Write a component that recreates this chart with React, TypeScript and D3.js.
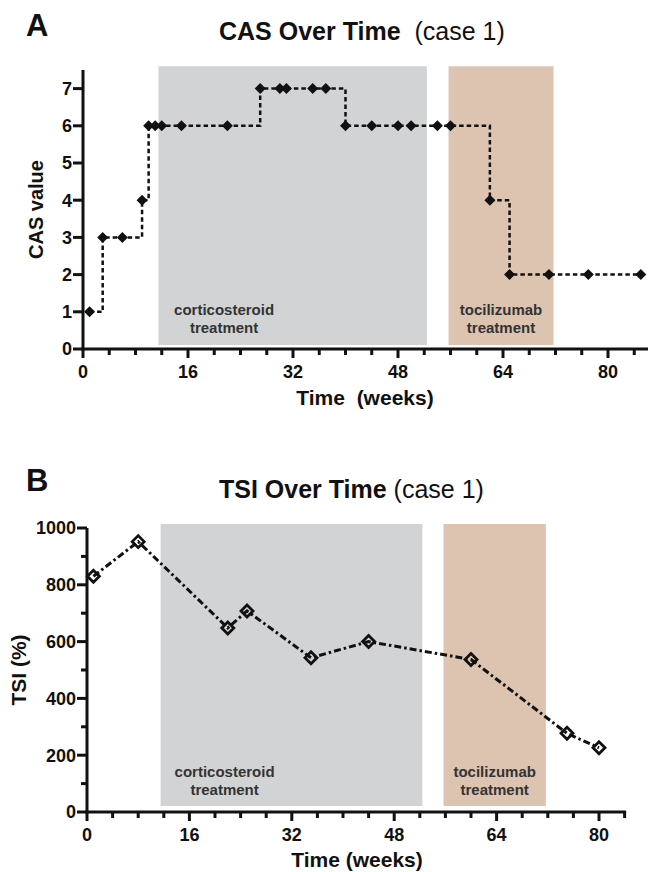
import React from "react";
import * as d3 from "d3";

// ---- Data ----
const casWeeks = [1, 3, 6, 9, 10, 11, 12, 15, 22, 27, 30, 31, 35, 37, 40, 44, 48, 50, 54, 56, 62, 65, 71, 77, 85];
const casValues = [1, 3, 3, 4, 6, 6, 6, 6, 6, 7, 7, 7, 7, 7, 6, 6, 6, 6, 6, 6, 4, 2, 2, 2, 2];

const tsiWeeks = [1, 8, 22, 25, 35, 44, 60, 75, 80];
const tsiValues = [830, 952, 648, 708, 543, 600, 537, 277, 226];

const bandNames = ["corticosteroid", "tocilizumab"];
const bandStart = [11.5, 55.7];
const bandEnd = [52.4, 71.7];
const bandLabelWeek = [21.5, 63.7];
const bandColors = ["#d2d3d5", "#dcc4b0"];

const xTicksMajor = [0, 16, 32, 48, 64, 80];
const xTicksMinor = [4, 8, 12, 20, 24, 28, 36, 40, 44, 52, 56, 60, 68, 72, 76, 84];
const casTicks = [0, 1, 2, 3, 4, 5, 6, 7];
const tsiTicksMajor = [0, 200, 400, 600, 800, 1000];
const tsiTicksMinor = [100, 300, 500, 700, 900];

const FONT = "'Liberation Sans', Arial, Helvetica, sans-serif";
const INK = "#111";

const diamond = (r: number) => `M0,${-r}L${r},0L0,${r}L${-r},0Z`;

function Bands({ x, yTop, yBottom, labelY }: { x: d3.ScaleLinear<number, number>; yTop: number; yBottom: number; labelY: number }) {
  return (
    <g>
      {bandNames.map((n, i) => (
        <rect key={n} x={x(bandStart[i])} y={yTop} width={x(bandEnd[i]) - x(bandStart[i])} height={yBottom - yTop} fill={bandColors[i]} />
      ))}
      {bandNames.map((n, i) => (
        <text key={n + "t"} x={x(bandLabelWeek[i])} y={labelY} textAnchor="middle" fontFamily={FONT} fontWeight="bold" fontSize={15} fill="#333">
          <tspan x={x(bandLabelWeek[i])}>{n}</tspan>
          <tspan x={x(bandLabelWeek[i])} dy={18}>treatment</tspan>
        </text>
      ))}
    </g>
  );
}

function XAxis({ x, y0, xEnd }: { x: d3.ScaleLinear<number, number>; y0: number; xEnd: number }) {
  return (
    <g>
      <line x1={x(0) - 1.5} x2={xEnd} y1={y0} y2={y0} stroke={INK} strokeWidth={3} />
      {xTicksMajor.map((t) => (
        <g key={t}>
          <line x1={x(t)} x2={x(t)} y1={y0} y2={y0 + 9} stroke={INK} strokeWidth={3} />
          <text x={x(t)} y={y0 + 29} textAnchor="middle" fontFamily={FONT} fontWeight="bold" fontSize={18} fill={INK}>{t}</text>
        </g>
      ))}
      {xTicksMinor.map((t) => (
        <line key={t} x1={x(t)} x2={x(t)} y1={y0} y2={y0 + 6} stroke={INK} strokeWidth={3} />
      ))}
    </g>
  );
}

export default function App() {
  // Chart A scales
  const xA = d3.scaleLinear().domain([0, 80]).range([83, 608]);
  const yA = d3.scaleLinear().domain([0, 7.5]).range([349, 70]);
  // Chart B scales
  const xB = d3.scaleLinear().domain([0, 80]).range([87, 599]);
  const yB = d3.scaleLinear().domain([0, 1000]).range([812, 528]);

  const casPts: [number, number][] = casWeeks.map((w, i) => [w, casValues[i]]);
  const tsiPts: [number, number][] = tsiWeeks.map((w, i) => [w, tsiValues[i]]);

  const casLine = d3
    .line<[number, number]>()
    .x((d) => xA(d[0]))
    .y((d) => yA(d[1]))
    .curve(d3.curveStepAfter)(casPts) as string;

  const tsiLine = d3
    .line<[number, number]>()
    .x((d) => xB(d[0]))
    .y((d) => yB(d[1]))(tsiPts) as string;

  return (
    <svg width={648} height={872} style={{ position: "absolute", left: 0, top: 0, background: "#fff" }}>
      <rect x={0} y={0} width={648} height={872} fill="#fff" />

      {/* ===== Chart A ===== */}
      <text x={26} y={36} fontFamily={FONT} fontWeight="bold" fontSize={31} fill={INK}>A</text>
      <text x={219} y={40} fontFamily={FONT} fontSize={25} fill={INK}>
        <tspan fontWeight="bold">CAS Over Time</tspan>
        <tspan xmlSpace="preserve">{"  (case 1)"}</tspan>
      </text>

      <Bands x={xA} yTop={yA(7.6)} yBottom={yA(0) - 4} labelY={315} />

      {/* y axis */}
      <line x1={xA(0)} x2={xA(0)} y1={yA(7.5)} y2={yA(0) + 1.5} stroke={INK} strokeWidth={3} />
      {casTicks.map((t) => (
        <g key={t}>
          <line x1={xA(0) - 10} x2={xA(0)} y1={yA(t)} y2={yA(t)} stroke={INK} strokeWidth={3} />
          <text x={xA(0) - 11} y={yA(t)} dy="0.36em" textAnchor="end" fontFamily={FONT} fontWeight="bold" fontSize={18} fill={INK}>{t}</text>
        </g>
      ))}
      <text transform={`translate(36,${(yA(0) + yA(7.5)) / 2}) rotate(-90)`} textAnchor="middle" dy="0.36em" fontFamily={FONT} fontWeight="bold" fontSize={20} fill={INK}>CAS value</text>

      <XAxis x={xA} y0={yA(0)} xEnd={648} />
      <text x={365} y={405} textAnchor="middle" fontFamily={FONT} fontWeight="bold" fontSize={21} fill={INK} style={{ whiteSpace: "pre" }}>{"Time  (weeks)"}</text>

      <path d={casLine} fill="none" stroke={INK} strokeWidth={2.5} strokeDasharray="4.5,3" />
      {casPts.map((d, i) => (
        <path key={i} d={diamond(5.5)} transform={`translate(${xA(d[0])},${yA(d[1])})`} fill={INK} />
      ))}

      {/* ===== Chart B ===== */}
      <text x={26} y={491} fontFamily={FONT} fontWeight="bold" fontSize={31} fill={INK}>B</text>
      <text x={219} y={498} fontFamily={FONT} fontSize={25} fill={INK}>
        <tspan fontWeight="bold">TSI Over Time</tspan>
        <tspan xmlSpace="preserve">{" (case 1)"}</tspan>
      </text>

      <Bands x={xB} yTop={yB(1014)} yBottom={yB(0) - 6} labelY={777} />

      <line x1={xB(0)} x2={xB(0)} y1={yB(1000)} y2={yB(0) + 1.5} stroke={INK} strokeWidth={3} />
      {tsiTicksMajor.map((t) => (
        <g key={t}>
          <line x1={xB(0) - 10} x2={xB(0)} y1={yB(t)} y2={yB(t)} stroke={INK} strokeWidth={3} />
          <text x={xB(0) - 11} y={yB(t)} dy="0.36em" textAnchor="end" fontFamily={FONT} fontWeight="bold" fontSize={18} fill={INK}>{t}</text>
        </g>
      ))}
      {tsiTicksMinor.map((t) => (
        <line key={t} x1={xB(0) - 6} x2={xB(0)} y1={yB(t)} y2={yB(t)} stroke={INK} strokeWidth={3} />
      ))}
      <text transform={`translate(18,${(yB(0) + yB(1000)) / 2}) rotate(-90)`} textAnchor="middle" dy="0.36em" fontFamily={FONT} fontWeight="bold" fontSize={21} fill={INK}>TSI (%)</text>

      <XAxis x={xB} y0={yB(0)} xEnd={xB(84) + 1.5} />
      <text x={357} y={867} textAnchor="middle" fontFamily={FONT} fontWeight="bold" fontSize={21} fill={INK}>Time (weeks)</text>

      <path d={tsiLine} fill="none" stroke={INK} strokeWidth={3} strokeDasharray="7,3,2.5,3" />
      {tsiPts.map((d, i) => (
        <path key={i} d={diamond(6)} transform={`translate(${xB(d[0])},${yB(d[1])})`} fill="none" stroke={INK} strokeWidth={2.8} strokeLinejoin="miter" />
      ))}
    </svg>
  );
}
